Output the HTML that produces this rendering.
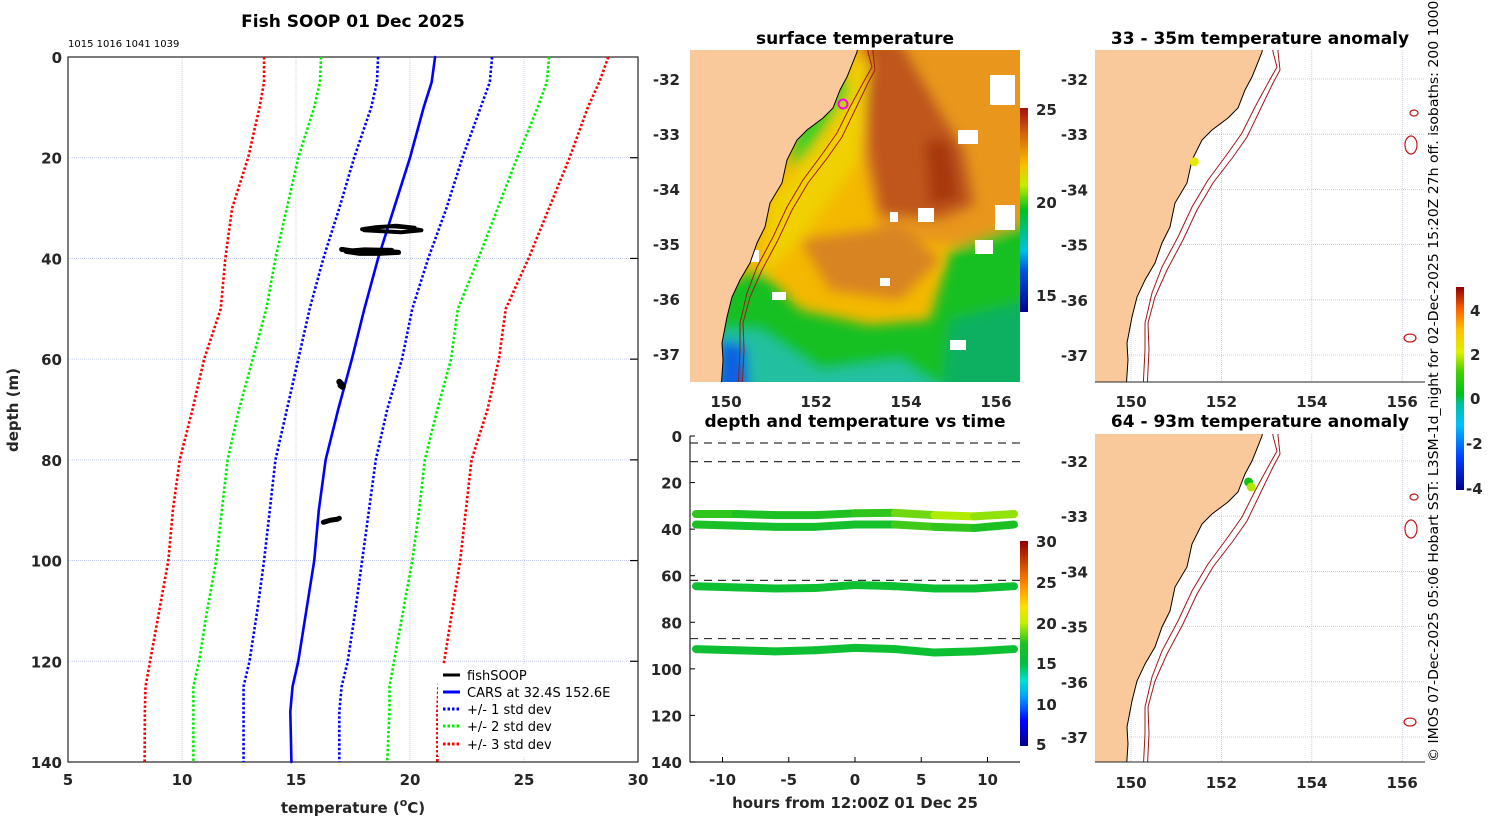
<!DOCTYPE html>
<html><head><meta charset="utf-8"><style>
html,body{margin:0;padding:0;background:#fff}
svg{display:block;font-family:"DejaVu Sans","Liberation Sans",sans-serif}
.tk{font-size:15px;font-weight:bold;fill:#262626}
.ttl{font-size:17px;font-weight:bold;fill:#000}
</style></head><body>
<svg id="s" width="1500" height="820" viewBox="0 0 1500 820">
<defs>
<linearGradient id="jetV" x1="0" y1="1" x2="0" y2="0">
<stop offset="0" stop-color="#00008f"/><stop offset="0.12" stop-color="#0000ff"/><stop offset="0.24" stop-color="#00a0ff"/><stop offset="0.32" stop-color="#00e0d0"/><stop offset="0.4" stop-color="#00c040"/><stop offset="0.5" stop-color="#20c020"/><stop offset="0.6" stop-color="#c0f000"/><stop offset="0.68" stop-color="#ffe000"/><stop offset="0.8" stop-color="#ff8000"/><stop offset="1" stop-color="#900000"/></linearGradient>
<linearGradient id="anV" x1="0" y1="1" x2="0" y2="0">
<stop offset="0" stop-color="#00008f"/><stop offset="0.16" stop-color="#0040ff"/><stop offset="0.32" stop-color="#00c0ff"/><stop offset="0.42" stop-color="#00c0a0"/><stop offset="0.47" stop-color="#00c020"/><stop offset="0.58" stop-color="#40d000"/><stop offset="0.68" stop-color="#e0f000"/><stop offset="0.79" stop-color="#ffc000"/><stop offset="0.89" stop-color="#ff6000"/><stop offset="1" stop-color="#900000"/></linearGradient>
<linearGradient id="sstV" x1="0" y1="1" x2="0" y2="0">
<stop offset="0" stop-color="#00008f"/><stop offset="0.2" stop-color="#0050e0"/><stop offset="0.3" stop-color="#00c0e0"/><stop offset="0.5" stop-color="#00c020"/><stop offset="0.62" stop-color="#c0f000"/><stop offset="0.72" stop-color="#f8c000"/><stop offset="0.88" stop-color="#d06010"/><stop offset="1" stop-color="#a01010"/></linearGradient>
<clipPath id="cpM"><rect x="690" y="50" width="330" height="332"/></clipPath>
<clipPath id="cpR1"><rect x="1095" y="50" width="330" height="332"/></clipPath>
<clipPath id="cpR2"><rect x="1095" y="434" width="330" height="328"/></clipPath>
<filter id="bl"><feGaussianBlur stdDeviation="6"/></filter>
<path id="coast" d="M1264,40 L1262,52 L1252,77 L1245,90 L1238,108 L1228,118 L1212,130 L1202,140 L1192,160 L1187,183 L1175,203 L1170,227 L1162,243 L1155,263 L1145,280 L1137,297 L1132,317 L1127,343 L1128,360 L1126,390 L1090,390 L1090,40 Z"/>
<path id="iso" d="M1272,40 L1273,52 L1277,67 L1268,83 L1255,107 L1242,133 L1228,153 L1208,180 L1192,207 L1178,237 L1162,267 L1152,293 L1145,323 L1145,350 L1143,390 M1278,40 L1278,52 L1280,70 L1273,83 L1260,110 L1247,137 L1233,157 L1213,183 L1197,210 L1183,240 L1167,270 L1155,297 L1148,323 L1149,350 L1147,390"/>
</defs>

<!-- LEFT PANEL -->
<text class="ttl" x="353" y="27" text-anchor="middle">Fish SOOP 01 Dec 2025</text>
<text x="68" y="47" font-size="10">1015 1016 1041 1039</text>
<g id="left"></g>
<text class="tk" x="0" y="0" transform="translate(18,410) rotate(-90)" text-anchor="middle" font-size="16">depth (m)</text>
<text class="tk" x="353" y="813" text-anchor="middle" font-size="17">temperature (<tspan dy="-7" font-size="11">o</tspan><tspan dy="7">C)</tspan></text>
<g font-size="13">
<rect x="438" y="664" width="186" height="92" fill="#fff"/>
<line x1="443" y1="675" x2="460" y2="675" stroke="#000" stroke-width="3"/><text x="467" y="680">fishSOOP</text>
<line x1="443" y1="692" x2="460" y2="692" stroke="#0000ff" stroke-width="3"/><text x="467" y="697">CARS at 32.4S 152.6E</text>
<line x1="443" y1="709" x2="460" y2="709" stroke="#0000ff" stroke-width="3" stroke-dasharray="2.5 2"/><text x="467" y="714">+/- 1 std dev</text>
<line x1="443" y1="726" x2="460" y2="726" stroke="#00ee00" stroke-width="3" stroke-dasharray="2.5 2"/><text x="467" y="731">+/- 2 std dev</text>
<line x1="443" y1="744" x2="460" y2="744" stroke="#ff0000" stroke-width="3" stroke-dasharray="2.5 2"/><text x="467" y="749">+/- 3 std dev</text>
</g>

<!-- MIDDLE TOP MAP -->
<text class="ttl" x="855" y="44" text-anchor="middle">surface temperature</text>
<g clip-path="url(#cpM)">
<rect x="690" y="50" width="330" height="332" fill="#f4b800"/>
<g filter="url(#bl)">
<path d="M860,40 L1030,40 L1030,240 L950,245 L880,235 L860,150 Z" fill="#e8961c"/>
<path d="M865,40 L900,40 L940,110 L965,150 L975,205 L940,220 L880,215 L868,150 Z" fill="#c0561a"/>
<path d="M925,140 L950,140 L960,200 L930,205 Z" fill="#a8380c"/>
<path d="M800,240 L900,225 L940,260 L900,300 L830,290 Z" fill="#d88420"/>
<path d="M770,200 L830,130 L855,60 L870,60 L860,160 L800,240 L760,280 Z" fill="#f0d000"/>
<path d="M680,300 L760,270 L800,310 L870,325 L930,320 L950,250 L1030,220 L1030,400 L680,400 Z" fill="#18c020"/>
<path d="M1030,300 L950,320 L940,400 L1030,400 Z" fill="#10b060"/>
<path d="M680,330 L760,330 L820,370 L900,360 L960,400 L680,400 Z" fill="#20c0a0"/>
<path d="M720,340 L745,345 L750,400 L715,400 Z" fill="#1060e0"/>
<path d="M800,100 L840,70 L850,90 L810,150 L790,170 Z" fill="#40d020"/>
</g>
<g fill="#fff">
<rect x="990" y="75" width="25" height="30"/><rect x="958" y="130" width="20" height="14"/><rect x="995" y="205" width="20" height="25"/><rect x="918" y="208" width="16" height="14"/><rect x="975" y="240" width="18" height="14"/><rect x="880" y="278" width="10" height="8"/><rect x="950" y="340" width="16" height="10"/><rect x="772" y="292" width="14" height="8"/><rect x="890" y="212" width="8" height="10"/><rect x="755" y="190" width="14" height="10"/><rect x="745" y="250" width="14" height="12"/>
</g>
<use href="#coast" transform="translate(-405,0)" fill="#f9c99b" stroke="#000" stroke-width="1"/>
<use href="#iso" transform="translate(-405,0)" fill="none" stroke="#a01818" stroke-width="1"/>
<circle cx="843" cy="104" r="4.5" fill="none" stroke="#ff00ff" stroke-width="2"/>
</g>
<rect x="1020" y="108" width="8" height="204" fill="url(#sstV)"/>
<g class="tk" font-size="13"><text x="1036" y="115">25</text><text x="1036" y="208">20</text><text x="1036" y="301">15</text></g>
<g class="tk">
<text x="680" y="85" text-anchor="end">-32</text><text x="680" y="140" text-anchor="end">-33</text><text x="680" y="195" text-anchor="end">-34</text><text x="680" y="250" text-anchor="end">-35</text><text x="680" y="305" text-anchor="end">-36</text><text x="680" y="360" text-anchor="end">-37</text>
<text x="726" y="407" text-anchor="middle">150</text><text x="816" y="407" text-anchor="middle">152</text><text x="906" y="407" text-anchor="middle">154</text><text x="996" y="407" text-anchor="middle">156</text>
</g>

<!-- MIDDLE BOTTOM -->
<text class="ttl" x="855" y="427" text-anchor="middle">depth and temperature vs time</text>
<g id="mid"></g>
<rect x="1020" y="541" width="8" height="205" fill="url(#jetV)"/>
<g class="tk" font-size="13"><text x="1036" y="547">30</text><text x="1036" y="588">25</text><text x="1036" y="629">20</text><text x="1036" y="669">15</text><text x="1036" y="710">10</text><text x="1036" y="750">5</text></g>
<text class="tk" x="855" y="808" text-anchor="middle" font-size="16">hours from 12:00Z 01 Dec 25</text>

<!-- RIGHT MAPS -->
<text class="ttl" x="1260" y="44" text-anchor="middle">33 - 35m temperature anomaly</text>
<text class="ttl" x="1260" y="427" text-anchor="middle">64 - 93m temperature anomaly</text>
<g id="r1" clip-path="url(#cpR1)"></g>
<g id="r2" clip-path="url(#cpR2)"></g>
<rect x="1456" y="287" width="8" height="203" fill="url(#anV)"/>
<g class="tk" font-size="13"><text x="1470" y="316">4</text><text x="1470" y="360">2</text><text x="1470" y="404">0</text><text x="1466" y="449">-2</text><text x="1466" y="494">-4</text></g>
<text x="0" y="0" transform="translate(1438,762) rotate(-90)" font-size="13" fill="#000" textLength="775" lengthAdjust="spacingAndGlyphs">© IMOS 07-Dec-2025 05:06 Hobart SST: L3SM-1d_night for 02-Dec-2025 15:20Z 27h off. isobaths: 200  1000m</text>
</svg>
<script>
// ---- profile data ----
const depths = [0,5,10,20,30,40,50,60,70,80,90,100,110,120,125,130,140];
const carsMean = [21.1,20.95,20.6,20.0,19.3,18.6,18.0,17.45,16.85,16.3,16.0,15.8,15.45,15.1,14.85,14.75,14.8];
const sd1Lo = [18.6,18.55,18.3,17.55,16.9,16.2,15.6,15.1,14.6,14.1,13.85,13.6,13.3,12.96,12.7,12.7,12.7];
const sd1Hi = [23.6,23.5,23.1,22.3,21.6,20.8,20.1,19.65,19.0,18.5,18.2,17.9,17.6,17.27,17.0,16.9,16.9];
const sd2Lo = [16.1,16.05,15.8,15.1,14.6,14.1,13.7,13.1,12.5,12.0,11.75,11.5,11.1,10.75,10.5,10.5,10.5];
const sd2Hi = [26.1,26.0,25.6,24.7,23.85,23.0,22.1,21.8,21.2,20.65,20.4,20.1,19.7,19.3,19.1,19.1,19.0];
const sd3Lo = [13.6,13.6,13.4,12.9,12.2,11.9,11.7,10.97,10.46,9.9,9.6,9.4,9.0,8.6,8.4,8.37,8.36];
const sd3Hi = [28.7,28.3,27.8,27.0,26.1,25.2,24.2,23.9,23.4,22.7,22.45,22.2,21.85,21.5,21.25,21.2,21.2];
const soopTemp1 = [17.9,18.5,19.2,19.8,20.5,19.6,18.8,18.0,18.4,19.4,20.2];
const soopDepth1 = [34.2,33.8,33.6,33.8,34.4,34.8,34.6,34.4,33.9,33.5,33.9];
const soopTemp2 = [17.0,17.6,18.4,19.0,19.5,18.6,17.8,17.2,18.0,19.2];
const soopDepth2 = [38.2,38.6,38.9,38.6,38.8,39.0,39.0,38.6,38.3,38.4];
const soopTemp3 = [16.9,17.0,17.05,16.95];
const soopDepth3 = [64.5,65.0,65.5,65.2];
const soopTemp4 = [16.2,16.5,16.8,16.9];
const soopDepth4 = [92.4,92.0,91.8,91.6];
const xTicks = [5,10,15,20,25,30];
const yTicks = [0,20,40,60,80,100,120,140];

const NS='http://www.w3.org/2000/svg';
function mk(tag, attrs, parent){const e=document.createElementNS(NS,tag);for(const k in attrs)e.setAttribute(k,attrs[k]);parent.appendChild(e);return e;}
const L=document.getElementById('left');
const X0=68,X1=638,Y0=57,Y1=762;
const px=t=>X0+(t-5)/25*(X1-X0);
const py=d=>Y0+d/140*(Y1-Y0);
xTicks.forEach((t,i)=>{
  if(i>0&&i<xTicks.length-1){const g=mk('line',{x1:px(t),x2:px(t),y1:Y0,y2:Y1,stroke:'#b8c0e8','stroke-width':0.8,'stroke-dasharray':'1 1'},L);
  
  }
  const tx=mk('text',{x:px(t),y:Y1+23,'text-anchor':'middle',class:'tk'},L);tx.textContent=t;
  
  
});
yTicks.forEach((d,i)=>{
  if(i>0&&i<yTicks.length-1){const g=mk('line',{x1:X0,x2:X1,y1:py(d),y2:py(d),stroke:'#b8c0e8','stroke-width':0.8,'stroke-dasharray':'1 1'},L);
  
  
  mk('line',{x1:X1-8,x2:X1,y1:py(d),y2:py(d),stroke:'#000','stroke-width':1.2},L);}
  const tx=mk('text',{x:X0-6,y:py(d)+6,'text-anchor':'end',class:'tk'},L);tx.textContent=d;
  
  
});
const fr=mk('rect',{x:X0,y:Y0,width:X1-X0,height:Y1-Y0,fill:'none',stroke:'#262626','stroke-width':1.2},L);


function line(temps,deps,color,dash,w,name){
  const p=mk('polyline',{points:temps.map((t,i)=>px(t)+','+py(deps[i])).join(' '),fill:'none',stroke:color,'stroke-width':w,'stroke-dasharray':dash||'none','stroke-linejoin':'round','stroke-linecap':dash?'butt':'round'},L);
  
  
}
line(sd3Lo,depths,'#ff0000','2.5 2',2.6,'sd3-lower-line');
line(sd3Hi,depths,'#ff0000','2.5 2',2.6,'sd3-upper-line');
line(sd2Lo,depths,'#00ee00','2.5 2',2.6,'sd2-lower-line');
line(sd2Hi,depths,'#00ee00','2.5 2',2.6,'sd2-upper-line');
line(sd1Lo,depths,'#0000ff','2.5 2',2.6,'sd1-lower-line');
line(sd1Hi,depths,'#0000ff','2.5 2',2.6,'sd1-upper-line');
line(carsMean,depths,'#0000ff',null,2.6,'cars-mean-line');
line(soopTemp1,soopDepth1,'#000',null,4,'fishsoop-profile-1');
line(soopTemp2,soopDepth2,'#000',null,5,'fishsoop-profile-2');
line(soopTemp3,soopDepth3,'#000',null,6,'fishsoop-profile-3');
line(soopTemp4,soopDepth4,'#000',null,5,'fishsoop-profile-4');

// ---- time plot data ----
const hours = [-12,-9,-6,-3,0,3,6,9,12];
const track1Depth = [33.5,33.5,34,34,33.2,33,34,34.5,33.5];
const track1Temp = [18,17.5,17,17.2,17.5,18,19.5,20,18.5];
const track2Depth = [38,38.5,39,39,38,38,39,39.5,38];
const track2Temp = [17.5,16.6,16.5,16.6,16.5,17,19,16.5,18];
const track3Depth = [64.5,65,65.5,65.3,64,64.5,65.5,65.5,64.5];
const track3Temp = [16,16,16,16,16.2,16,16,16,16.1];
const track4Depth = [91.5,92,92.5,92,91,91.5,93,92.5,91.5];
const track4Temp = [16.1,16,16,16,16.1,16,16,16,16];
const dashDepths = [3,11,62,87];
const hTicks = [-10,-5,0,5,10];
const dTicks = [0,20,40,60,80,100,120,140];
const M=document.getElementById('mid');
const MX0=690,MX1=1020,MY0=436,MY1=762;
const hx=h=>855+h*13.25;
const dy=d=>MY0+d/140*(MY1-MY0);
function hex(c){return [parseInt(c.substr(1,2),16),parseInt(c.substr(3,2),16),parseInt(c.substr(5,2),16)];}
function cmap(v,stops){
  if(v<=stops[0][0])return stops[0][1];
  for(let i=0;i<stops.length-1;i++){const a=stops[i],b=stops[i+1];
    if(v<=b[0]){const f=(v-a[0])/(b[0]-a[0]);const ca=hex(a[1]),cb=hex(b[1]);
      return 'rgb('+ca.map((x,k)=>Math.round(x+(cb[k]-x)*f)).join(',')+')';}}
  return stops[stops.length-1][1];
}
const tempStops=[[5,'#00008f'],[8,'#0000ff'],[11,'#00a0ff'],[13,'#00e0d0'],[15,'#00c040'],[17.5,'#20c020'],[20,'#c0f000'],[22,'#ffe000'],[25,'#ff8000'],[30,'#900000']];
const anomStops=[[-4.5,'#00008f'],[-3,'#0040ff'],[-1.5,'#00c0ff'],[-0.5,'#00c0a0'],[0,'#00c020'],[1,'#40d000'],[2,'#e0f000'],[3,'#ffc000'],[4,'#ff6000'],[5,'#900000']];
dashDepths.forEach(d=>{const l=mk('line',{x1:MX0,x2:MX1,y1:dy(d),y2:dy(d),stroke:'#333','stroke-width':1.2,'stroke-dasharray':'8 6'},M);
  
  });
[[track1Depth,track1Temp],[track2Depth,track2Temp],[track3Depth,track3Temp],[track4Depth,track4Temp]].forEach((tr,k)=>{
  for(let i=0;i<hours.length-1;i++){
    const s=mk('line',{x1:hx(hours[i]),y1:dy(tr[0][i]),x2:hx(hours[i+1]),y2:dy(tr[0][i+1]),stroke:cmap((tr[1][i]+tr[1][i+1])/2,tempStops),'stroke-width':8,'stroke-linecap':'round'},M);
    
    
  }
});
mk('line',{x1:MX0,x2:MX0,y1:MY0,y2:MY1,stroke:'#262626','stroke-width':1.2},M);
mk('line',{x1:MX0,x2:MX1,y1:MY1,y2:MY1,stroke:'#262626','stroke-width':1.2},M);
hTicks.forEach(h=>{mk('line',{x1:hx(h),x2:hx(h),y1:MY1,y2:MY1-5,stroke:'#000'},M);
  const t=mk('text',{x:hx(h),y:MY1+23,'text-anchor':'middle',class:'tk'},M);t.textContent=h;
  
  });
dTicks.forEach(d=>{mk('line',{x1:MX0,x2:MX0+5,y1:dy(d),y2:dy(d),stroke:'#000'},M);
  const t=mk('text',{x:MX0-8,y:dy(d)+6,'text-anchor':'end',class:'tk'},M);t.textContent=d;
  
  });

// ---- anomaly maps ----
const anomLon = [151.4,152.6,152.66];
const anomLat = [-33.5,-32.38,-32.47];
const anomValue = [2.1,0.2,1.7];
const anomMap = [0,1,1];
const lonTicks=[150,152,154,156], latTicks=[-32,-33,-34,-35,-36,-37];
const S=document.getElementById('s');
[['r1',0,79],['r2',384,461]].forEach(([id,off,lat32],mi)=>{
  const G=document.getElementById(id);
  const lx=l=>1131+(l-150)*45.2, ly=a=>lat32+(-32-a)*55.2;
  lonTicks.forEach(l=>{const g=mk('line',{x1:lx(l),x2:lx(l),y1:50+off,y2:382+off,stroke:'#b8c0e8','stroke-width':0.8,'stroke-dasharray':'1 1'},G);
    
    });
  latTicks.forEach(a=>{const g=mk('line',{x1:1095,x2:1425,y1:ly(a),y2:ly(a),stroke:'#b8c0e8','stroke-width':0.8,'stroke-dasharray':'1 1'},G);
    
    });
  const c=mk('use',{href:'#coast',transform:'translate(0,'+off+')',fill:'#f9c99b',stroke:'#000','stroke-width':1},G);
  
  
  const iso=mk('use',{href:'#iso',transform:'translate(0,'+off+')',fill:'none',stroke:'#a01818','stroke-width':1},G);
  
  
  [[1414,113,4,3],[1411,145,6,9],[1410,338,6,4]].forEach(p=>{const e=mk('ellipse',{cx:p[0],cy:p[1]+off,rx:p[2],ry:p[3],fill:'none',stroke:'#c01818','stroke-width':1.2},G);
    
    });
  anomLon.forEach((l,i)=>{if(anomMap[i]!==mi)return;
    const d=mk('circle',{cx:lx(l),cy:ly(anomLat[i]),r:4.5,fill:cmap(anomValue[i],anomStops)},G);
    
    });
  latTicks.forEach(a=>{const t=mk('text',{x:1088,y:ly(a)+6,'text-anchor':'end',class:'tk'},S);t.textContent=a;
    
    });
  lonTicks.forEach(l=>{const t=mk('text',{x:lx(l),y:(mi?788:407),'text-anchor':'middle',class:'tk'},S);t.textContent=l;
    
    });
  const ax=mk('line',{x1:1095,x2:1425,y1:(mi?762:382),y2:(mi?762:382),stroke:'#262626','stroke-width':1},S);
  
  
});
</script>
</body></html>
